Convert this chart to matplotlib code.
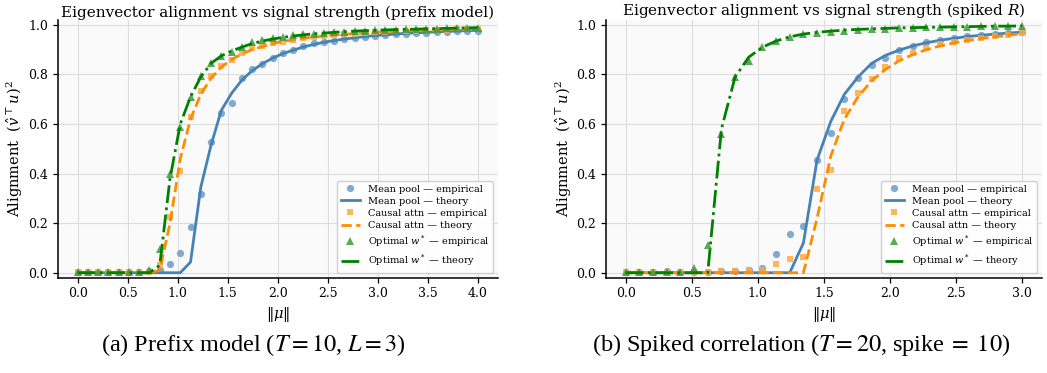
import numpy as np
import matplotlib
matplotlib.use("Agg")
import matplotlib.pyplot as plt

plt.rcParams['font.family'] = ['DejaVu Serif']
plt.rcParams['mathtext.fontset'] = 'dejavuserif'

# ---------------- data: prefix model (left) ----------------
x_prefix = np.linspace(0, 4, 40)
prefix_mean_emp = [0.002, 0.001, 0.003, 0.002, 0.004, 0.003, 0.005, 0.006, 0.010, 0.037,
                   0.080, 0.183, 0.318, 0.529, 0.643, 0.684, 0.784, 0.821, 0.842, 0.867,
                   0.887, 0.898, 0.915, 0.925, 0.931, 0.937, 0.943, 0.948, 0.952, 0.956,
                   0.959, 0.962, 0.964, 0.966, 0.968, 0.970, 0.972, 0.974, 0.976, 0.977]
prefix_mean_th = [0, 0, 0, 0, 0, 0, 0, 0, 0, 0,
                  0, 0.043, 0.345, 0.515, 0.655, 0.724, 0.777, 0.815, 0.843, 0.866,
                  0.884, 0.898, 0.911, 0.921, 0.930, 0.937, 0.943, 0.948, 0.953, 0.957,
                  0.960, 0.963, 0.966, 0.968, 0.970, 0.972, 0.974, 0.975, 0.977, 0.978]
prefix_causal_emp = [0.002, 0.001, 0.002, 0.003, 0.002, 0.004, 0.003, 0.005, 0.030, 0.225,
                     0.411, 0.627, 0.734, 0.793, 0.835, 0.860, 0.885, 0.905, 0.913, 0.925,
                     0.933, 0.940, 0.946, 0.951, 0.955, 0.959, 0.962, 0.965, 0.968, 0.970,
                     0.972, 0.974, 0.976, 0.977, 0.978, 0.979, 0.981, 0.982, 0.983, 0.984]
prefix_causal_th = [0, 0, 0, 0, 0, 0, 0, 0, 0.010, 0.200,
                    0.460, 0.620, 0.720, 0.785, 0.830, 0.860, 0.883, 0.900, 0.913, 0.924,
                    0.933, 0.940, 0.946, 0.951, 0.955, 0.959, 0.962, 0.965, 0.968, 0.970,
                    0.972, 0.974, 0.976, 0.977, 0.978, 0.979, 0.981, 0.982, 0.983, 0.984]
prefix_opt_emp = [0.003, 0.002, 0.004, 0.002, 0.005, 0.003, 0.004, 0.010, 0.096, 0.400,
                  0.590, 0.710, 0.793, 0.848, 0.874, 0.890, 0.912, 0.931, 0.940, 0.946,
                  0.953, 0.958, 0.962, 0.965, 0.968, 0.971, 0.973, 0.975, 0.977, 0.978,
                  0.980, 0.981, 0.982, 0.983, 0.984, 0.985, 0.986, 0.987, 0.988, 0.989]
prefix_opt_th = [0, 0, 0, 0, 0, 0, 0, 0, 0.030, 0.380,
                 0.600, 0.710, 0.790, 0.845, 0.875, 0.895, 0.910, 0.925, 0.935, 0.943,
                 0.950, 0.955, 0.960, 0.964, 0.967, 0.970, 0.973, 0.975, 0.977, 0.978,
                 0.980, 0.981, 0.982, 0.983, 0.984, 0.985, 0.986, 0.987, 0.988, 0.989]

# ---------------- data: spiked correlation (right) ----------------
x_spiked = np.linspace(0, 3, 30)
spiked_mean_emp = [0.003, 0.002, 0.004, 0.006, 0.004, 0.005, 0.004, 0.008, 0.009, 0.010,
                   0.020, 0.074, 0.158, 0.190, 0.455, 0.563, 0.700, 0.785, 0.840, 0.866,
                   0.898, 0.914, 0.930, 0.940, 0.947, 0.955, 0.960, 0.964, 0.967, 0.971]
spiked_mean_th = [0, 0, 0, 0, 0, 0, 0, 0, 0, 0,
                  0, 0, 0, 0.120, 0.455, 0.610, 0.720, 0.790, 0.845, 0.877,
                  0.898, 0.915, 0.928, 0.938, 0.946, 0.953, 0.958, 0.963, 0.967, 0.971]
spiked_causal_emp = [0.004, 0.003, 0.005, 0.004, 0.003, 0.004, 0.005, 0.008, 0.009, 0.010,
                     0.012, 0.037, 0.056, 0.063, 0.338, 0.415, 0.654, 0.726, 0.780, 0.832,
                     0.865, 0.888, 0.908, 0.922, 0.932, 0.941, 0.949, 0.955, 0.961, 0.968]
spiked_causal_th = [0, 0, 0, 0, 0, 0, 0, 0, 0, 0,
                    0, 0, 0, 0, 0.220, 0.470, 0.620, 0.710, 0.775, 0.820,
                    0.855, 0.880, 0.900, 0.915, 0.927, 0.937, 0.945, 0.952, 0.958, 0.965]
spiked_opt_emp = [0.003, 0.002, 0.004, 0.003, 0.004, 0.020, 0.110, 0.560, 0.790, 0.855,
                  0.909, 0.935, 0.951, 0.962, 0.969, 0.973, 0.977, 0.980, 0.983, 0.985,
                  0.987, 0.989, 0.990, 0.991, 0.992, 0.993, 0.994, 0.995, 0.995, 0.996]
spiked_opt_th = [0, 0, 0, 0, 0, 0, 0, 0.580, 0.790, 0.870,
                 0.910, 0.935, 0.952, 0.963, 0.970, 0.975, 0.979, 0.982, 0.984, 0.986,
                 0.988, 0.989, 0.990, 0.991, 0.992, 0.993, 0.994, 0.995, 0.995, 0.996]

titles = ["Eigenvector alignment vs signal strength (prefix model)",
          "Eigenvector alignment vs signal strength (spiked $R$)"]
captions = ["(a) Prefix model ($T=10$, $L=3$)",
            "(b) Spiked correlation ($T=20$, spike$\\;=\\;10$)"]

C_BLUE = "#4682b4"
C_ORANGE = "#ff8c00"
C_GREEN = "#008000"
C_GREEN_M = "#3c9a3c"
C_ORANGE_M = "#ffa940"
C_BLUE_M = "#6a9bc8"

fig = plt.figure(figsize=(10.47, 3.73), dpi=100)
ax1 = fig.add_axes([0.0551, 0.2555, 0.4203, 0.691])
ax2 = fig.add_axes([0.5788, 0.2555, 0.4162, 0.691])

panels = [
    (ax1, x_prefix, prefix_mean_emp, prefix_mean_th, prefix_causal_emp, prefix_causal_th,
     prefix_opt_emp, prefix_opt_th, np.arange(0, 4.01, 0.5)),
    (ax2, x_spiked, spiked_mean_emp, spiked_mean_th, spiked_causal_emp, spiked_causal_th,
     spiked_opt_emp, spiked_opt_th, np.arange(0, 3.01, 0.5)),
]

for k, (ax, x, me, mt, ce, ct, oe, ot, xt) in enumerate(panels):
    ax.set_facecolor("#fafafa")
    ax.plot(x, me, 'o', color=C_BLUE_M, ms=5.2, alpha=0.85, mew=0,
            label="Mean pool — empirical")
    ax.plot(x, mt, '-', color=C_BLUE, lw=2.0, label="Mean pool — theory")
    ax.plot(x, ce, 's', color=C_ORANGE_M, ms=5.0, alpha=0.85, mew=0,
            label="Causal attn — empirical")
    ax.plot(x, ct, '--', color=C_ORANGE, lw=2.0, label="Causal attn — theory")
    ax.plot(x, oe, '^', color=C_GREEN_M, ms=5.4, alpha=0.85, mew=0,
            label="Optimal $w^*$ — empirical")
    ax.plot(x, ot, '-.', color=C_GREEN, lw=2.0, label="Optimal $w^*$ — theory")
    ax.set_ylim(-0.02, 1.02)
    ax.set_xticks(xt)
    ax.set_yticks([0.0, 0.2, 0.4, 0.6, 0.8, 1.0])
    ax.grid(True, color="#dddddd", lw=0.8)
    ax.set_axisbelow(True)
    for s in ("top", "right"):
        ax.spines[s].set_visible(False)
    for s in ("left", "bottom"):
        ax.spines[s].set_linewidth(1.1)
    ax.tick_params(labelsize=9, length=3.5, width=0.9)
    ax.set_title(titles[k], fontsize=11, pad=2)
    ax.set_xlabel(r"$\|\mu\|$", fontsize=10.5, labelpad=3)
    ax.set_ylabel(r"Alignment  $(\hat{v}^{\top}u)^2$", fontsize=10.5, labelpad=2)
    ax.legend(loc="lower right", fontsize=7, labelspacing=0.32, handlelength=2.0,
              borderpad=0.35, framealpha=0.9, edgecolor="#cccccc")

fig.text(0.2417, 0.075, captions[0], ha="center", va="center", fontsize=17.5,
         family="Liberation Serif", math_fontfamily="stix")
fig.text(0.765, 0.075, captions[1], ha="center", va="center", fontsize=17.5,
         family="Liberation Serif", math_fontfamily="stix")

fig.savefig("out.png", dpi=100)
